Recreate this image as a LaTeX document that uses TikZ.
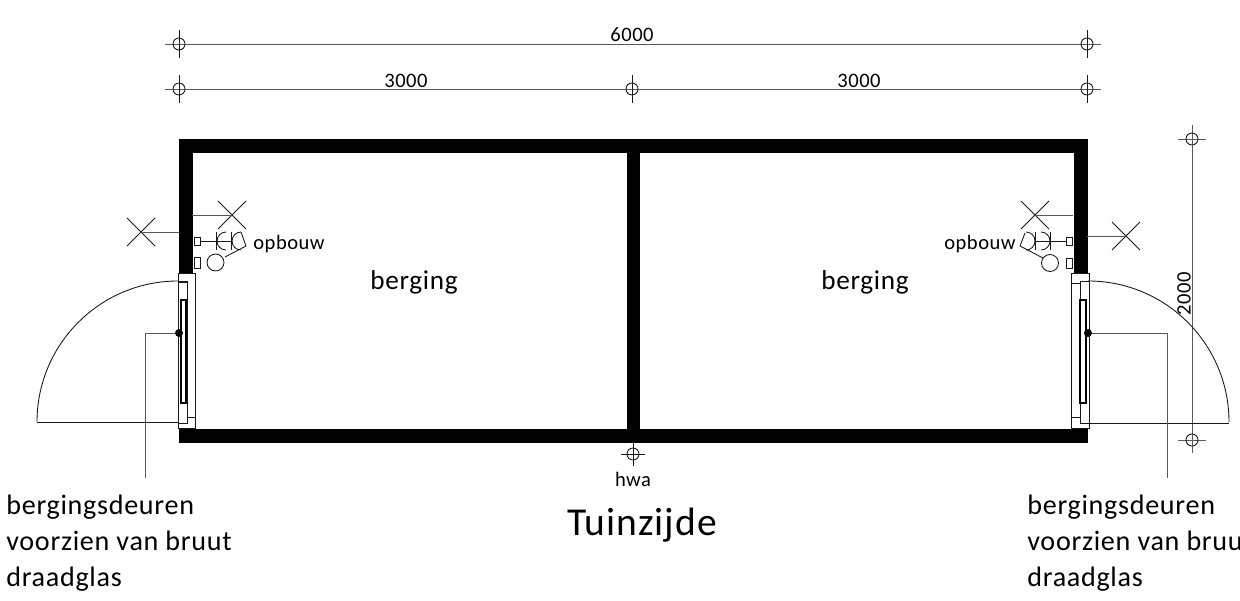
\documentclass[tikz,border=0pt]{standalone}
\usepackage{fontspec}
\setmainfont{Carlito}[LetterSpace=2.5]
\usepackage{tikz}

\tikzset{
  wall/.style={fill=black, draw=black},
  thinline/.style={black!65, line width=0.55pt},
  frameline/.style={black!90, line width=0.5pt},
  smalltext/.style={font=\fontsize{11.7}{12}\selectfont, inner sep=0pt},
  roomtext/.style={font=\fontsize{15.5}{18}\selectfont, inner sep=0pt},
  notetext/.style={font=\fontsize{16}{20.4}\selectfont, inner sep=0pt, align=left, anchor=north west},
  dimtext/.style={font=\fontsize{11.7}{12}\selectfont, inner sep=0pt}
}

% dimension marker: circle with cross
\newcommand{\dimmark}[2]{
  \draw [frameline] (#1,#2) circle (6);
  \draw [frameline] (#1,#2-14) -- (#1,#2+14);
}

% cross lamp
\newcommand{\lampcross}[2]{
  \draw [frameline] (#1-14,#2-14) -- (#1+14,#2+14);
  \draw [frameline] (#1-14,#2+14) -- (#1+14,#2-14);
}

\begin{document}
\begin{tikzpicture}[x=0.02cm,y=-0.02cm]
  \useasboundingbox (0,0) rectangle (1240,601);

  % Draw walls
  \draw [wall] (179,139) rectangle (1087,152);
  \draw [wall] (179,429) rectangle (1087,442);
  \draw [wall] (179,139) rectangle (192,273);
  \draw [wall] (1074,139) rectangle (1087,273);
  \draw [wall] (627,139) rectangle (639,442);

  % Draw dimensions
  \draw [thinline] (165,44) -- (1101,44);
  \draw [thinline] (165,89) -- (1101,89);
  \draw [thinline] (1192,125) -- (1192,453);
  \draw [thinline] (1178,139) -- (1206,139);
  \draw [thinline] (1178,440) -- (1206,440);
  \draw [frameline] (1192,139) circle (6);
  \draw [frameline] (1192,440) circle (6);
  \foreach \xpos in {179,1087} {
    \dimmark{\xpos}{44}
    \dimmark{\xpos}{89}
  }
  \dimmark{632}{89}

  \node [dimtext] (dimtotal) at (632,35) {6000};
  \node [dimtext] (dimleft) at (406,81) {3000};
  \node [dimtext] (dimright) at (859,81) {3000};
  \node [dimtext, rotate=90] (dimdepth) at (1184,294) {2000};

  % Draw hwa
  \draw [frameline] (633,454) circle (6);
  \draw [frameline] (633,442) -- (633,466);
  \draw [frameline] (621,454) -- (645,454);
  \node [smalltext] (hwa) at (633,479) {hwa};

  % Left door
  \draw [frameline, fill=white] (178,273) rectangle (195,428);
  \draw [frameline] (178,282) -- (187,282);
  \draw [frameline] (187,417) -- (195,417);
  \draw [frameline] (178,281) rectangle (187,423);
  \draw [black, line width=0.8pt] (181,300) rectangle (186,403);
  \draw [frameline] (178,281) arc (270:180:141);
  \draw [frameline] (37,422) -- (178,422);
  \draw [thinline] (145,478) -- (145,333) -- (179,333);
  \fill (179,333) circle (4);

  % Right door
  \draw [frameline, fill=white] (1071,273) rectangle (1089,428);
  \draw [frameline] (1071,283) -- (1080,283);
  \draw [frameline] (1071,417) -- (1080,417);
  \draw [frameline] (1080,281) rectangle (1089,423);
  \draw [black, line width=0.8pt] (1080,300) rectangle (1086,403);
  \draw [frameline] (1088,281) arc (270:360:141);
  \draw [frameline] (1088,423) -- (1229,423);
  \draw [thinline] (1167,478) -- (1167,333) -- (1088,333);
  \fill (1088,333) circle (4);

  % Left fittings
  \lampcross{232}{215}
  \lampcross{141}{232}
  \draw [thinline] (192,215) -- (232,215);
  \draw [thinline] (141,232) -- (179,232);
  \draw [frameline] (194,237) rectangle (200,245);
  \draw [frameline] (194,257) rectangle (200,268);
  \draw [frameline] (215.5,262.5) circle (8.5);
  \draw [frameline] (200,241) -- (231,241);
  \draw [frameline] (216,232) -- (216,250);
  \draw [frameline] (231,232) -- (231,250);
  \draw [frameline] (226,232) arc [start angle=-90, end angle=-270, radius=9];
  \draw [frameline] (241,232) arc [start angle=-90, end angle=-270, radius=9];
  \draw [frameline] (241,232) -- (246,246) -- (225,257);
  \node [smalltext, anchor=west] (switchleft) at (253,244) {opbouw};

  % Right fittings
  \lampcross{1035}{215}
  \lampcross{1126}{236}
  \draw [thinline] (1035,215) -- (1073,215);
  \draw [thinline] (1087,236) -- (1126,236);
  \draw [frameline] (1066,237) rectangle (1072,245);
  \draw [frameline] (1066,258) rectangle (1072,268);
  \draw [frameline] (1050,263) circle (8.5);
  \draw [frameline] (1035,241) -- (1066,241);
  \draw [frameline] (1050,232) -- (1050,250);
  \draw [frameline] (1035,232) -- (1035,250);
  \draw [frameline] (1041,232) arc [start angle=-90, end angle=90, radius=9];
  \draw [frameline] (1026,232) arc [start angle=-90, end angle=90, radius=9];
  \draw [frameline] (1025,233) -- (1020,246) -- (1043,258);
  \node [smalltext, anchor=east] (switchright) at (1016,244) {opbouw};

  % Text
  \node [roomtext] (roomleft) at (414,282) {berging};
  \node [roomtext] (roomright) at (865,282) {berging};
  \node [font=\fontsize{22.5}{24}\selectfont, inner sep=0pt] (title) at (642,525) {Tuinzijde};
  \node [notetext] (noteleft) at (6,495) {bergingsdeuren\\voorzien van bruut\\draadglas};
  \node [notetext] (noteright) at (1027,495) {bergingsdeuren\\voorzien van bruut\\draadglas};
\end{tikzpicture}
\end{document}
